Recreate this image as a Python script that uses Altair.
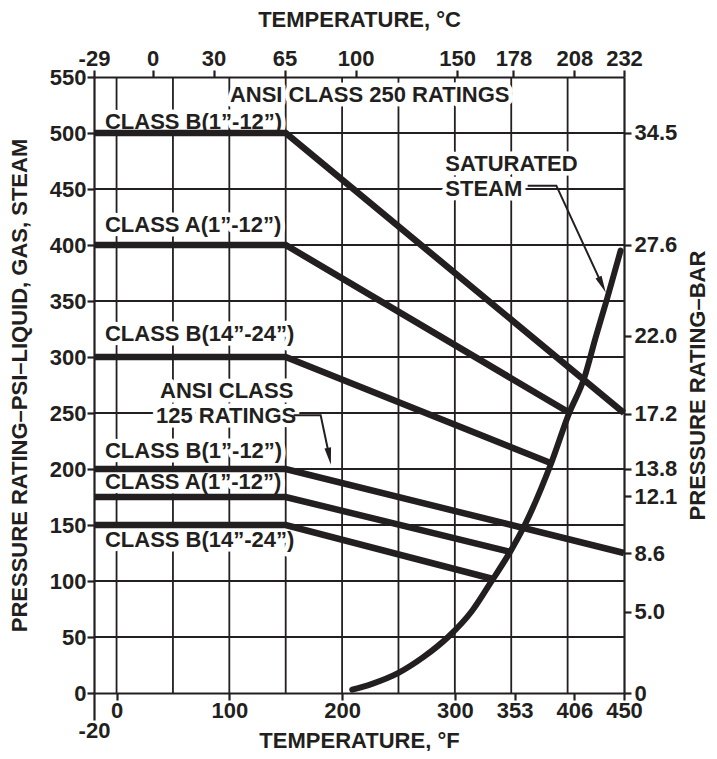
import altair as alt
import pandas as pd

INK = "#231f20"
FONT = "Arial"
TOTAL_W, TOTAL_H = 701, 743
X_DOMAIN = [-20, 450]
Y_DOMAIN = [0, 550]

# ---- ratings (deg F, psi) ----
series = ["250 B(1-12)", "250 A(1-12)", "250 B(14-24)", "125 B(1-12)", "125 A(1-12)", "125 B(14-24)"]
start_f = [-20, -20, -20, -20, -20, -20]
flat_psi = [500, 400, 300, 200, 175, 150]
bend_f = [150, 150, 150, 150, 150, 150]
end_f = [450, 402, 386, 450, 349, 333]
end_psi = [250, 250, 205, 125, 126, 102]

# ---- saturated steam curve ----
steam_f = [209, 226, 250, 272, 294, 315, 332, 349, 362, 385, 401, 415, 425, 435, 447]
steam_psi = [3, 8, 18, 32, 50, 73, 99, 126, 150, 204, 249, 282, 318, 352, 395]

# ---- grid ----
grid_f = [0, 50, 100, 150, 200, 250, 300, 350, 400]
grid_psi = [50, 100, 150, 200, 250, 300, 350, 400, 450, 500]

# ---- axis ticks ----
bottom_ticks = [0, 100, 200, 300, 353, 406, 450]
left_ticks = [0, 50, 100, 150, 200, 250, 300, 350, 400, 450, 500, 550]
top_c = [-29, 0, 30, 65, 100, 150, 178, 208, 232]
right_bar = [0, 5.0, 8.6, 12.1, 13.8, 17.2, 22.0, 27.6, 34.5]

# ---- annotations (left edge, baseline) ----
label_text = ["ANSI CLASS 250 RATINGS", "CLASS B(1\u201d-12\u201d)", "CLASS A(1\u201d-12\u201d)",
              "CLASS B(14\u201d-24\u201d)", "ANSI CLASS", "125 RATINGS",
              "CLASS B(1\u201d-12\u201d)", "CLASS A(1\u201d-12\u201d)", "CLASS B(14\u201d-24\u201d)",
              "SATURATED", "STEAM"]
label_f = [100.5, -10.3, -10.3, -10.3, 38.6, 35, -10.3, -10.3, -10.3, 291.5, 291.5]
label_psi = [527.8, 504, 411.2, 314.2, 263.5, 241.1, 209.8, 182, 130.7, 466.4, 444]

leader_group = ["a", "a", "a", "b", "b", "b"]
leader_f = [157, 181, 188.5, 364.6, 390, 430.2]
leader_psi = [248, 248, 212.3, 453, 453, 365.3]
arrow_f = [188.5, 430.2]
arrow_psi = [212.3, 365.3]
arrow_angle = [169.5, 155]

# ---- tables ----
rows = []
for s, a, p, b, ef, ep in zip(series, start_f, flat_psi, bend_f, end_f, end_psi):
    rows += [dict(S=s, i=0, F=a, P=p), dict(S=s, i=1, F=b, P=p), dict(S=s, i=2, F=ef, P=ep)]
df_r = pd.DataFrame(rows)
df_steam = pd.DataFrame({"F": steam_f, "P": steam_psi})
df_gf = pd.DataFrame({"F": grid_f})
df_gp = pd.DataFrame({"P": grid_psi})
df_lab = pd.DataFrame({"F": label_f, "P": label_psi, "T": label_text})
df_lead = pd.DataFrame({"G": leader_group, "i": list(range(len(leader_f))), "F": leader_f, "P": leader_psi})
df_arrow = pd.DataFrame({"F": arrow_f, "P": arrow_psi, "A": arrow_angle})
df_top = pd.DataFrame({"F": [round(c * 9 / 5 + 32) for c in top_c]})
df_right = pd.DataFrame({"P": [b * 14.5038 for b in right_bar]})


def xs():
    return alt.Scale(domain=X_DOMAIN, nice=False, zero=False)


def ys():
    return alt.Scale(domain=Y_DOMAIN, nice=False, zero=False)


axis_style = dict(labelFont=FONT, labelFontSize=22, labelFontWeight="bold", labelColor=INK,
                  titleFont=FONT, titleFontSize=22, titleFontWeight="bold", titleColor=INK,
                  domainColor=INK, domainWidth=2.2, tickColor=INK, tickWidth=2.2, grid=False,
                  labelOverlap=False, labelFlush=False)

grid_v = alt.Chart(df_gf).mark_rule(color=INK, strokeWidth=1.8).encode(
    x=alt.X("F:Q", scale=xs(), axis=None))
grid_h = alt.Chart(df_gp).mark_rule(color=INK, strokeWidth=1.8).encode(
    y=alt.Y("P:Q", scale=ys(), axis=None))

halo = alt.Chart(df_lab).mark_text(align="left", baseline="alphabetic", font=FONT, fontSize=22,
                                   fontWeight="bold", color="white", stroke="white",
                                   strokeWidth=9, strokeJoin="round").encode(
    x=alt.X("F:Q", scale=xs(), axis=None), y=alt.Y("P:Q", scale=ys(), axis=None), text="T:N")

ratings = alt.Chart(df_r).mark_line(color=INK, strokeWidth=6.5, strokeCap="butt",
                                    strokeJoin="miter").encode(
    x=alt.X("F:Q", scale=xs(), axis=alt.Axis(orient="bottom", values=bottom_ticks,
                                               labelExpr="'' + datum.value",
                                               title="TEMPERATURE, \u00b0F", tickSize=7,
                                               labelPadding=0, titlePadding=9, **axis_style)),
    y=alt.Y("P:Q", scale=ys(), axis=alt.Axis(orient="left", values=left_ticks,
                                               title="PRESSURE RATING\u2013PSI\u2013LIQUID, GAS, STEAM",
                                               tickSize=7, labelPadding=1, titlePadding=18,
                                               **axis_style)),
    detail="S:N", order="i:Q")

steam = alt.Chart(df_steam).mark_line(color=INK, strokeWidth=6, strokeCap="round",
                                      interpolate="monotone").encode(
    x=alt.X("F:Q", scale=xs(), axis=None), y=alt.Y("P:Q", scale=ys(), axis=None))

leaders = alt.Chart(df_lead).mark_line(color=INK, strokeWidth=2).encode(
    x=alt.X("F:Q", scale=xs(), axis=None), y=alt.Y("P:Q", scale=ys(), axis=None),
    detail="G:N", order="i:Q")

arrows = alt.Chart(df_arrow).mark_point(shape="M0,-1.3L0.45,1L-0.45,1Z", filled=True,
                                         color=INK, size=220, opacity=1).encode(
    x=alt.X("F:Q", scale=xs(), axis=None), y=alt.Y("P:Q", scale=ys(), axis=None),
    angle=alt.Angle("A:Q", scale=None))

texts = alt.Chart(df_lab).mark_text(align="left", baseline="alphabetic", font=FONT, fontSize=22,
                                    fontWeight="bold", color=INK).encode(
    x=alt.X("F:Q", scale=xs(), axis=None), y=alt.Y("P:Q", scale=ys(), axis=None), text="T:N")

top_axis = alt.Chart(df_top).mark_rule(opacity=0).encode(
    x=alt.X("F:Q", scale=xs(), axis=alt.Axis(orient="top", values=list(df_top["F"]),
                                               labelExpr="'' + round((datum.value - 32) * 5 / 9)",
                                               title="TEMPERATURE, \u00b0C", tickSize=7,
                                               labelPadding=0, titlePadding=16, **axis_style)))

right_axis = alt.Chart(df_right).mark_rule(opacity=0).encode(
    y=alt.Y("P:Q", scale=ys(), axis=alt.Axis(orient="right", values=list(df_right["P"]),
                                               labelExpr="datum.value == 0 ? '0' : format(datum.value / 14.5038, '.1f')",
                                               title="PRESSURE RATING\u2013BAR", titleAngle=270,
                                               titleBaseline="top",
                                               tickSize=7, labelPadding=3, titlePadding=11,
                                               **axis_style)))

minus20 = alt.Chart(pd.DataFrame({"F": [-20]})).mark_rule(opacity=0).encode(
    x=alt.X("F:Q", scale=xs(), axis=alt.Axis(orient="bottom", values=[-20], tickSize=27,
                                               labelExpr="'' + datum.value",
                                               domain=False, labelPadding=0, title=None,
                                               **axis_style)))

chart = alt.layer(grid_v, grid_h, halo, ratings, steam, leaders, arrows, texts,
                  top_axis, right_axis, minus20).resolve_scale(
    x="independent", y="independent").properties(
    width=TOTAL_W, height=TOTAL_H, padding={"left": 0, "top": 0, "right": 0, "bottom": 0},
    autosize=alt.AutoSizeParams(type="fit", contains="padding"),
    background="white").configure_view(stroke=None)

chart.save("out.html", embed_options={"renderer": "svg", "actions": False})
